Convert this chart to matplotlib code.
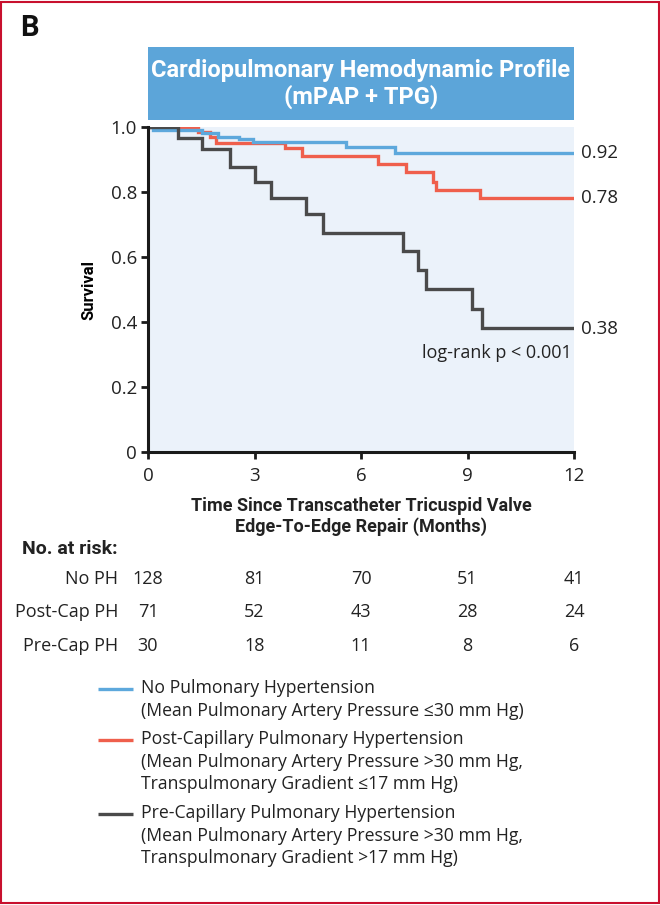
import matplotlib
matplotlib.use("Agg")

import matplotlib.pyplot as plt
from matplotlib.patches import Rectangle
from matplotlib.lines import Line2D
from matplotlib import transforms

# Kaplan-Meier steps (months, survival)
t_noph = [0, 0.15, 1.51, 1.98, 2.56, 2.97, 5.58, 6.96, 12]
s_noph = [1.0, 0.992, 0.980, 0.970, 0.962, 0.955, 0.937, 0.921, 0.921]

t_post = [0, 1.42, 1.75, 1.92, 3.86, 4.35, 6.47, 7.26, 8.04, 8.11, 9.35, 12]
s_post = [1.0, 0.986, 0.968, 0.950, 0.934, 0.911, 0.886, 0.861, 0.832, 0.806, 0.781, 0.781]

t_pre = [0, 0.85, 1.51, 2.31, 3.01, 3.46, 4.44, 4.94, 7.19, 7.60, 7.82, 9.12, 9.40, 12]
s_pre = [1.0, 0.967, 0.933, 0.876, 0.830, 0.781, 0.731, 0.675, 0.618, 0.56, 0.50, 0.44, 0.38, 0.38]

end_labels = ["0.92", "0.78", "0.38"]

risk_times = [0, 3, 6, 9, 12]
risk_rows = ["No PH", "Post-Cap PH", "Pre-Cap PH"]
risk_noph = [128, 81, 70, 51, 41]
risk_post = [71, 52, 43, 28, 24]
risk_pre = [30, 18, 11, 8, 6]

legend_labels = [
    "No Pulmonary Hypertension\n(Mean Pulmonary Artery Pressure \u226430 mm Hg)",
    "Post-Capillary Pulmonary Hypertension\n(Mean Pulmonary Artery Pressure >30 mm Hg,\nTranspulmonary Gradient \u226417 mm Hg)",
    "Pre-Capillary Pulmonary Hypertension\n(Mean Pulmonary Artery Pressure >30 mm Hg,\nTranspulmonary Gradient >17 mm Hg)",
]

BLUE = "#5DA8DC"
RED = "#EF5F4C"
DARK = "#4A4A4A"
BOX = "#5CA5D9"
BG = "#EBF2FA"
TXT = "#222222"

plt.rcParams["font.family"] = ["Open Sans", "DejaVu Sans"]
NARROW = ["Roboto", "DejaVu Sans"]

W, H = 660, 905
fig = plt.figure(figsize=(W / 100, H / 100), dpi=100)


def fx(x):
    return x / W


def fy(y):
    return 1 - y / H


# outer frame
fig.add_artist(Rectangle((0.002, 0.002), 0.996, 0.996, transform=fig.transFigure,
                         fill=False, edgecolor="#C8102E", linewidth=1.5))

fig.text(fx(20), fy(28), "B", fontsize=21, fontweight="bold", family=NARROW,
         ha="left", va="center", color="#111111")

# title box
fig.add_artist(Rectangle((fx(148), fy(120)), fx(574) - fx(148), fy(47) - fy(120),
                         transform=fig.transFigure, facecolor=BOX, edgecolor="none"))
fig.text(fx(361), fy(70), "Cardiopulmonary Hemodynamic Profile", fontsize=17,
         fontweight="bold", family=NARROW, color="white", ha="center", va="center")
fig.text(fx(361), fy(97), "(mPAP + TPG)", fontsize=17,
         fontweight="bold", family=NARROW, color="white", ha="center", va="center")

ax = fig.add_axes([fx(148), fy(452), fx(574) - fx(148), fy(127) - fy(452)])
ax.set_facecolor(BG)

ax.plot(t_post, s_post, drawstyle="steps-post", color=RED, lw=2.4, solid_joinstyle="miter")
ax.plot(t_noph, s_noph, drawstyle="steps-post", color=BLUE, lw=2.4, solid_joinstyle="miter")
ax.plot(t_pre, s_pre, drawstyle="steps-post", color=DARK, lw=2.4, solid_joinstyle="miter")

ax.set_xlim(0, 12)
ax.set_ylim(0, 1.0)
ax.set_xticks(risk_times)
ax.set_yticks([0, 0.2, 0.4, 0.6, 0.8, 1.0])
ax.set_yticklabels(["0", "0.2", "0.4", "0.6", "0.8", "1.0"])
for sp in ["top", "right"]:
    ax.spines[sp].set_visible(False)
for sp in ["left", "bottom"]:
    ax.spines[sp].set_linewidth(2.2)
    ax.spines[sp].set_color("#1a1a1a")
ax.tick_params(axis="both", direction="out", length=5, width=2, color="#1a1a1a",
               labelsize=13.5, labelcolor=TXT)
ax.tick_params(axis="x", pad=6)
ax.tick_params(axis="y", pad=3)

ax.set_ylabel("Survival", fontsize=12, fontweight="bold", family=NARROW, labelpad=10)

for s, lab in zip([s_noph[-1], s_post[-1], s_pre[-1]], end_labels):
    ax.text(12.2, s, lab, fontsize=13.5, ha="left", va="center", color=TXT,
            clip_on=False)
ax.text(11.95, 0.305, "log-rank p < 0.001", fontsize=13, ha="right", va="center",
        color=TXT)

fig.text(fx(361), fy(506), "Time Since Transcatheter Tricuspid Valve", fontsize=13,
         fontweight="bold", family=NARROW, ha="center", va="center", color=TXT)
fig.text(fx(361), fy(527), "Edge-To-Edge Repair (Months)", fontsize=13,
         fontweight="bold", family=NARROW, ha="center", va="center", color=TXT)

# number at risk
fig.text(fx(22), fy(549), "No. at risk:", fontsize=14, fontweight="bold", family=NARROW,
         ha="left", va="center", color=TXT)
tr = transforms.blended_transform_factory(ax.transData, fig.transFigure)
for name, vals, yy in zip(risk_rows, [risk_noph, risk_post, risk_pre], [579, 612, 646]):
    fig.text(fx(118), fy(yy), name, fontsize=13, ha="right", va="center", color=TXT)
    for t, v in zip(risk_times, vals):
        ax.text(t, fy(yy), str(v), transform=tr, fontsize=13, ha="center", va="center",
                color=TXT)

# legend
for lab, col, yy in zip(legend_labels, [BLUE, RED, DARK], [689, 740, 814]):
    fig.add_artist(Line2D([fx(98), fx(133)], [fy(yy), fy(yy)], transform=fig.transFigure,
                          color=col, lw=2.4, solid_capstyle="butt"))
    fig.text(fx(141), fy(yy - 10), lab, fontsize=12.7, ha="left", va="top",
             linespacing=1.33, color=TXT)

fig.savefig("out.png", dpi=100)
